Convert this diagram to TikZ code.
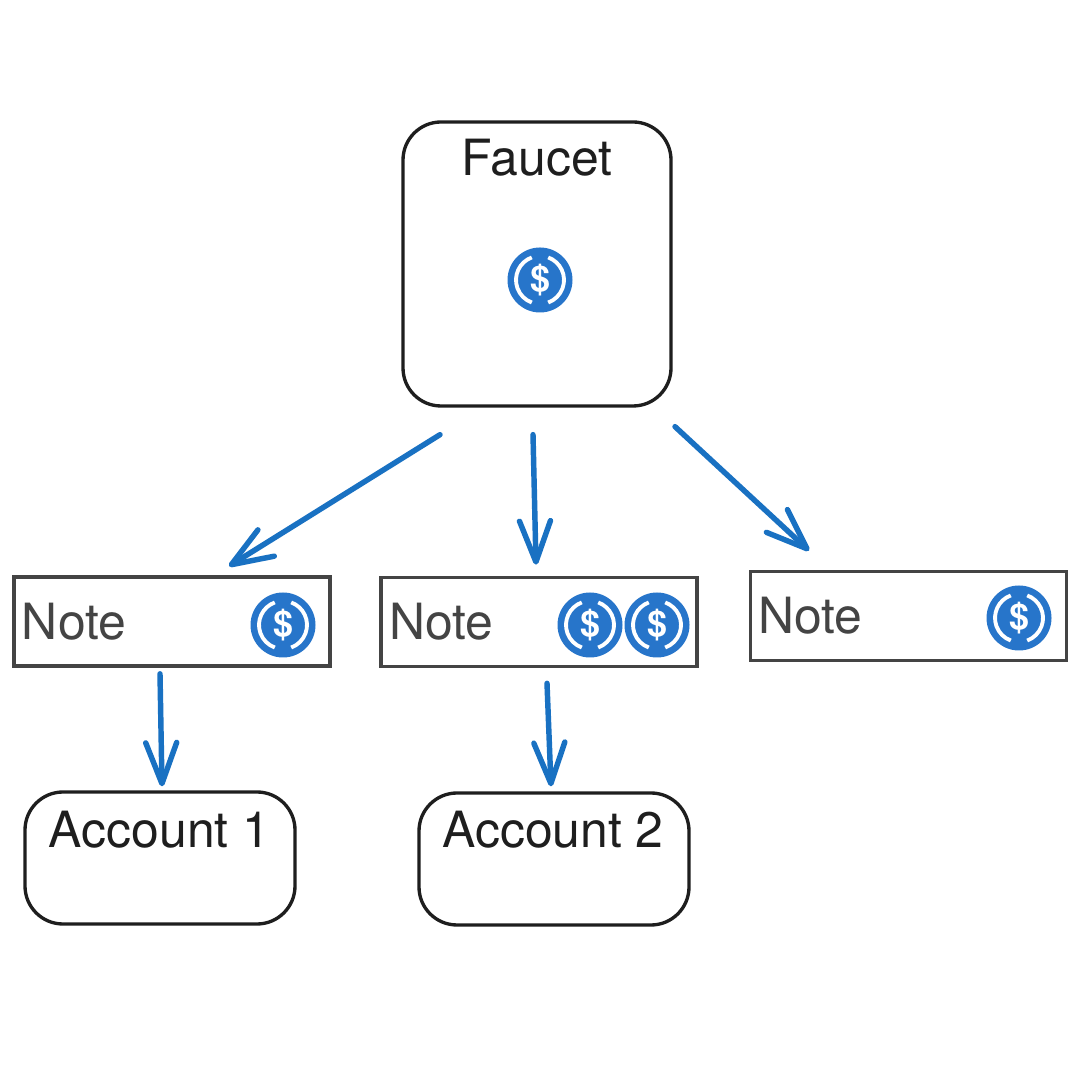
\documentclass[tikz,border=0pt]{standalone}
\usepackage{fontspec}
\setmainfont{TeX Gyre Heros}
\usetikzlibrary{positioning,arrows.meta}
\definecolor{coinblue}{HTML}{2775CA}
\definecolor{flowblue}{HTML}{1971C2}
\definecolor{inkdark}{HTML}{1E1E1E}
\definecolor{notegray}{HTML}{444444}
\tikzset{
  holder/.style={draw=inkdark, line width=0.95pt, rounded corners=0.38cm, inner sep=0pt},
  notebox/.style={draw=notegray, line width=1.05pt, text=notegray, inner sep=0pt, minimum height=0.89cm,
    minimum width=3.16cm, text width=3.0cm, align=left, font=\fontsize{14.2}{16}\selectfont},
  titletext/.style={text=inkdark, inner sep=0pt, font=\fontsize{14.2}{16}\selectfont},
  flow/.style={draw=flowblue, line width=1.55pt, line cap=round,
    -{Straight Barb[round, length=4.1mm, width=3.1mm, line width=1.55pt]}},
  pics/coin/.style={code={
    \fill[coinblue] (0,0) circle (0.325);
    \draw[white, line width=1.1pt] (110:0.24) arc (110:250:0.24);
    \draw[white, line width=1.1pt] (70:0.24) arc (70:-70:0.24);
    \node[text=white, inner sep=0pt, font=\fontsize{10.2}{11}\selectfont\bfseries] (-sign) at (0,0) {\$};
  }}
}
\begin{document}
\begin{tikzpicture}

  \useasboundingbox (0,0) rectangle (10.8,10.8);
  \fill[white] (0,0) rectangle (10.8,10.8);

  % --- Faucet and accounts ---
  \node[holder, minimum width=2.68cm, minimum height=2.84cm] (faucet) at (5.37,8.16) {};
  \node[holder, minimum width=2.70cm, minimum height=1.32cm] (account1) at (1.60,2.22) {};
  \node[holder, minimum width=2.70cm, minimum height=1.32cm] (account2) at (5.54,2.21) {};

  \node[titletext, below=0.18cm of faucet.north] (faucetlabel) {Faucet};
  \node[titletext, below=0.20cm of account1.north, xshift=-0.005cm] (account1label) {Account 1};
  \node[titletext, below=0.19cm of account2.north, xshift=-0.01cm] (account2label) {Account 2};

  % --- Notes ---
  \node[notebox] (note1) at (1.72,4.585) {Note};
  \node[notebox] (note2) at (5.39,4.58) {Note};
  \node[notebox] (note3) at (9.085,4.64) {Note};

  % --- Coins ---
  \pic (coinA) at (5.40,8.00) {coin};
  \pic (coinB) at (2.83,4.55) {coin};
  \pic (coinC) at (5.90,4.55) {coin};
  \pic (coinD) at (6.57,4.55) {coin};
  \pic (coinE) at (10.19,4.62) {coin};

  % --- Flows ---
  \draw[flow] ([shift={(-0.97,-0.27)}]faucet.south) -- ([shift={(0.57,0.09)}]note1.north);
  \draw[flow] ([shift={(-0.04,-0.27)}]faucet.south) -- ([shift={(-0.03,0.11)}]note2.north);
  \draw[flow] ([shift={(1.38,-0.19)}]faucet.south) -- ([shift={(-0.995,0.19)}]note3.north);
  \draw[flow] ([shift={(-0.12,-0.06)}]note1.south) -- ([shift={(0.02,0.04)}]account1.north);
  \draw[flow] ([shift={(0.08,-0.15)}]note2.south) -- ([shift={(-0.03,0.05)}]account2.north);

\end{tikzpicture}
\end{document}
